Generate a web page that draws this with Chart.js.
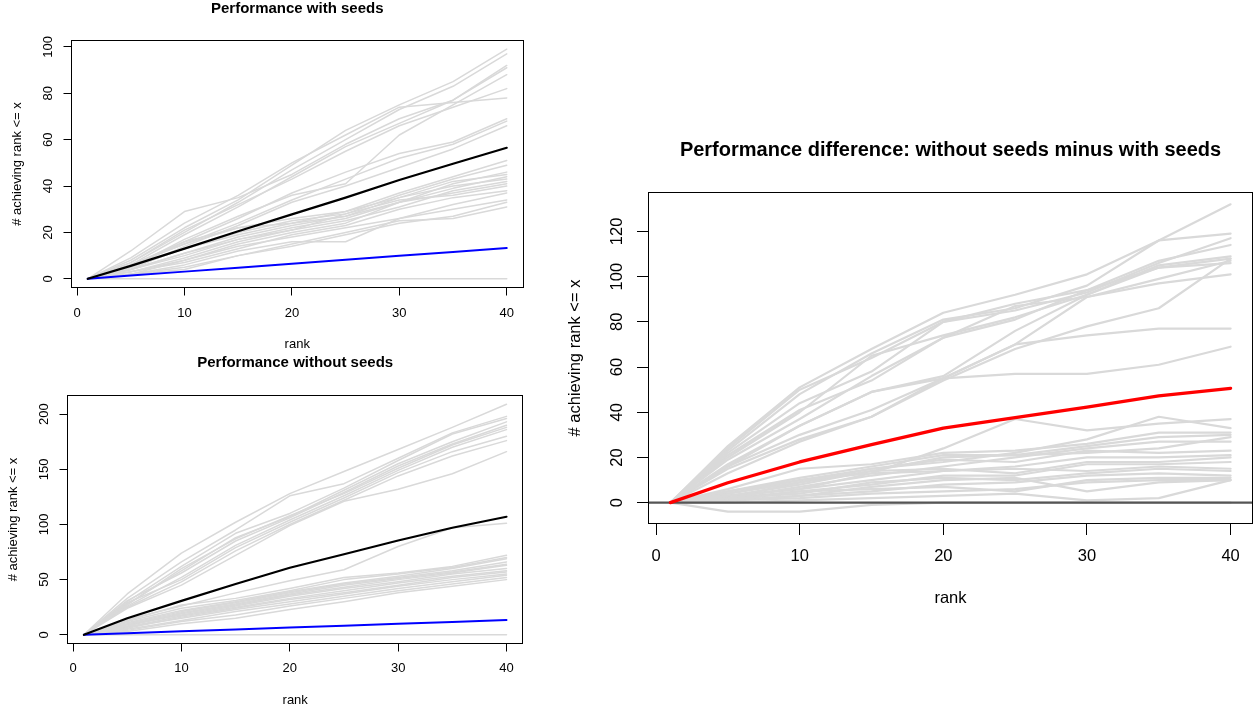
<!DOCTYPE html>
<html>
<head>
<meta charset="utf-8">
<script src="https://cdn.jsdelivr.net/npm/chart.js@4.4.1/dist/chart.umd.min.js"></script>
<style>
  body { margin: 0; background: #fff; width: 1258px; height: 710px; position: relative; overflow: hidden; }
  canvas { position: absolute; }
</style>
</head>
<body>
<canvas id="withChart" width="540" height="355" style="left:0;top:0"></canvas>
<canvas id="withoutChart" width="540" height="355" style="left:0;top:355px"></canvas>
<canvas id="diffChart" width="698" height="510" style="left:560px;top:120px"></canvas>
<script>
// ranks on the x axis and the tick labels
const ranks = [1, 5, 10, 15, 20, 25, 30, 35, 40];
const rankTicks = [0, 10, 20, 30, 40];
const withTicks = [0, 20, 40, 60, 80, 100];
const withoutTicks = [0, 50, 100, 150, 200];
const diffTicks = [0, 20, 40, 60, 80, 100, 120];

// --- Performance with seeds (one row per run) ---
const withSeeds = [
  [0, 8, 22, 34, 49, 64, 75, 85, 99],
  [0, 7, 20, 33, 47, 60, 73, 83, 97],
  [0, 12, 29, 35, 45, 58, 69, 77, 92],
  [0, 6, 19, 31, 44, 57, 67, 77, 91],
  [0, 7, 21, 32, 43, 55, 66, 74, 82],
  [0, 5, 17, 27, 36, 41, 62, 75, 88],
  [0, 9, 24, 36, 50, 62, 74, 76, 78],
  [0, 5, 16, 26, 37, 46, 54, 59, 69],
  [0, 6, 15, 24, 34, 43, 52, 58, 68],
  [0, 4, 14, 23, 33, 40, 48, 56, 66],
  [0, 6, 16, 22, 26, 29, 37, 44, 51],
  [0, 5, 13, 20, 25, 28, 36, 43, 49],
  [0, 6, 15, 22, 24, 27, 33, 41, 46],
  [0, 4, 11, 18, 23, 27, 35, 42, 45],
  [0, 4, 10, 17, 22, 26, 33, 39, 44],
  [0, 5, 13, 19, 24, 29, 35, 40, 43],
  [0, 3, 9, 16, 21, 25, 31, 38, 42],
  [0, 2, 8, 15, 20, 24, 33, 37, 41],
  [0, 4, 11, 17, 21, 28, 34, 36, 40],
  [0, 3, 7, 13, 19, 23, 30, 35, 38],
  [0, 2, 6, 12, 16, 16, 26, 32, 37],
  [0, 3, 8, 14, 18, 22, 26, 30, 34],
  [0, 2, 5, 10, 14, 19, 24, 27, 33],
  [0, 2, 4, 10, 15, 20, 25, 26, 31],
  [0, 0, 0, 0, 0, 0, 0, 0, 0]
];
const withMean = [0, 5.6, 13, 20.5, 27.8, 35, 42.6, 49.6, 56.5];
const withRandom = [0, 1.4, 3.1, 4.8, 6.5, 8.2, 9.9, 11.6, 13.3];

// --- Performance without seeds ---
const withoutSeeds = [
  [0, 37, 74, 102, 128, 148, 168, 188, 209],
  [0, 33, 66, 95, 126, 137, 160, 183, 198],
  [0, 30, 62, 92, 110, 133, 158, 182, 196],
  [0, 28, 58, 88, 107, 131, 155, 175, 193],
  [0, 31, 56, 85, 106, 129, 153, 173, 190],
  [0, 27, 60, 87, 108, 128, 151, 172, 188],
  [0, 26, 52, 81, 104, 126, 149, 170, 186],
  [0, 29, 50, 79, 102, 124, 147, 166, 180],
  [0, 25, 48, 76, 100, 122, 144, 162, 176],
  [0, 24, 45, 72, 99, 121, 132, 146, 166],
  [0, 14, 26, 38, 49, 59, 80, 97, 101],
  [0, 13, 27, 33, 42, 52, 56, 62, 72],
  [0, 12, 24, 31, 40, 50, 55, 61, 70],
  [0, 11, 22, 30, 39, 47, 53, 60, 69],
  [0, 10, 21, 29, 38, 46, 52, 58, 66],
  [0, 9, 20, 28, 37, 45, 51, 57, 64],
  [0, 8, 19, 27, 36, 43, 50, 56, 63],
  [0, 9, 18, 26, 35, 42, 48, 55, 60],
  [0, 7, 17, 25, 33, 40, 47, 53, 58],
  [0, 6, 16, 24, 32, 38, 45, 52, 57],
  [0, 7, 15, 23, 30, 37, 44, 50, 55],
  [0, 5, 13, 21, 28, 35, 42, 48, 54],
  [0, 4, 12, 18, 26, 33, 40, 46, 52],
  [0, 3, 10, 15, 23, 30, 38, 44, 50],
  [0, 0, 0, 0, 0, 0, 0, 0, 0]
];
const withoutMean = [0, 15, 30.7, 46, 60.8, 73, 85.5, 97, 107];
const withoutRandom = [0, 1.4, 3.1, 4.8, 6.5, 8.2, 9.9, 11.6, 13.3];

// --- Difference: without seeds minus with seeds ---
const diffSeeds = [
  [0, 25, 51, 68, 84, 92, 101, 116, 132],
  [0, 23, 48, 66, 81, 86, 96, 116, 119],
  [0, 24, 50, 64, 80, 85, 93, 106, 117],
  [0, 22, 44, 58, 80, 88, 94, 107, 114],
  [0, 20, 40, 65, 74, 82, 92, 105, 109],
  [0, 21, 41, 54, 73, 81, 94, 104, 108],
  [0, 19, 37, 56, 73, 87, 91, 99, 107],
  [0, 17, 34, 49, 56, 76, 92, 104, 106],
  [0, 16, 30, 41, 55, 70, 91, 97, 101],
  [0, 15, 28, 38, 54, 68, 78, 86, 108],
  [0, 13, 27, 38, 55, 70, 74, 77, 77],
  [0, 16, 34, 49, 55, 57, 57, 61, 69],
  [0, 5, 10, 13, 24, 37, 32, 35, 37],
  [0, 4, 9, 15, 18, 22, 28, 38, 33],
  [0, 6, 15, 17, 22, 23, 26, 31, 31],
  [0, 3, 8, 14, 20, 21, 25, 29, 30],
  [0, 5, 11, 16, 21, 21, 22, 24, 29],
  [0, 2, 7, 12, 16, 20, 24, 27, 27],
  [0, 4, 10, 15, 19, 18, 23, 22, 23],
  [0, 3, 6, 10, 14, 16, 20, 20, 21],
  [0, 2, 9, 14, 15, 13, 18, 18, 20],
  [0, 1, 5, 8, 12, 12, 17, 17, 18],
  [0, 3, 6, 13, 14, 15, 14, 16, 15],
  [0, 2, 4, 9, 11, 10, 13, 15, 14],
  [0, 1, 3, 5, 8, 9, 12, 13, 12],
  [0, 2, 5, 6, 7, 5, 10, 11, 11],
  [0, 1, 2, 4, 5, 6, 9, 10, 10],
  [0, 1, 3, 7, 10, 11, 5, 9, 10],
  [0, 0, 1, 2, 3, 4, 1, 2, 10],
  [0, -4, -4, -1, 0, 0, 0, 0, 0]
];
const diffMean = [0, 8.8, 18, 25.7, 33, 37.6, 42.3, 47.2, 50.6];

Chart.defaults.font.family = '"Liberation Sans", Arial, Helvetica, sans-serif';
Chart.defaults.color = '#000';

const toPoints = vals => vals.map((v, i) => ({ x: ranks[i], y: v }));

// R-style box around the plot region
const framePlugin = {
  id: 'frame',
  afterDatasetsDraw(chart) {
    const { ctx, chartArea: a } = chart;
    ctx.save();
    ctx.strokeStyle = '#000';
    ctx.lineWidth = 1;
    ctx.strokeRect(Math.round(a.left) + 0.5, Math.round(a.top) + 0.5,
      Math.round(a.right - a.left) - 1, Math.round(a.bottom - a.top) - 1);
    ctx.restore();
  }
};

function makePanel(id, p) {
  const vals = [].concat(...p.runs, ...p.lines.map(l => l.values));
  const lo = Math.min(...vals), hi = Math.max(...vals);
  const yPad = (hi - lo) * 0.04;
  const xPad = (ranks[ranks.length - 1] - ranks[0]) * 0.04;
  const xMin = ranks[0] - xPad, xMax = ranks[ranks.length - 1] + xPad;

  const datasets = p.runs.map(r => ({
    data: toPoints(r), borderColor: '#d9d9d9', borderWidth: p.runWidth, order: 3
  }));
  if (p.zeroLine) {
    datasets.push({ data: [{ x: xMin, y: 0 }, { x: xMax, y: 0 }], borderColor: '#555555', borderWidth: 2.2, order: 2 });
  }
  p.lines.forEach(l => datasets.push({
    data: toPoints(l.values), borderColor: l.color, borderWidth: l.width, order: 1
  }));

  const grid = { drawOnChartArea: false, drawTicks: true, tickLength: p.tick, color: '#000', lineWidth: 1 };

  new Chart(document.getElementById(id), {
    type: 'line',
    data: { datasets },
    options: {
      responsive: false,
      animation: false,
      events: [],
      layout: { padding: { left: 0, right: p.padRight, top: 0, bottom: 0 } },
      elements: {
        point: { radius: 0 },
        line: { tension: 0, fill: false, borderJoinStyle: 'round', borderCapStyle: 'round' }
      },
      plugins: {
        legend: { display: false },
        tooltip: { enabled: false },
        title: {
          display: true, text: p.title, fullSize: false,
          font: { size: p.titleSize, weight: 'bold', lineHeight: 1 },
          padding: { top: p.titleTop, bottom: p.titleBottom }
        }
      },
      scales: {
        x: {
          type: 'linear', min: xMin, max: xMax,
          afterBuildTicks: s => { s.ticks = rankTicks.map(v => ({ value: v })); },
          afterFit: s => { s.height = p.xHeight; },
          grid, border: { display: false },
          ticks: { font: { size: p.font }, padding: p.xTickPad, maxRotation: 0, autoSkip: false },
          title: { display: true, text: 'rank', font: { size: p.font }, padding: { top: 0, bottom: p.xTitlePad } }
        },
        y: {
          type: 'linear', min: lo - yPad, max: hi + yPad,
          afterBuildTicks: s => { s.ticks = p.yTicks.map(v => ({ value: v })); },
          afterFit: s => { s.width = p.yWidth; },
          grid, border: { display: false },
          ticks: { font: { size: p.font }, padding: p.yTickPad, minRotation: 90, maxRotation: 90, crossAlign: 'center', autoSkip: false },
          title: { display: true, text: '# achieving rank <= x', font: { size: p.font }, padding: { top: p.yTitlePad, bottom: 0 } }
        }
      }
    },
    plugins: [framePlugin]
  });
}

makePanel('withChart', {
  title: 'Performance with seeds', titleSize: 15, titleTop: 1.5, titleBottom: 23.5,
  runs: withSeeds, runWidth: 1.5,
  lines: [{ values: withMean, color: '#000000', width: 2.2 }, { values: withRandom, color: '#0000ff', width: 2 }],
  yTicks: withTicks, font: 13, tick: 7.5, padRight: 16.5, yWidth: 71, xHeight: 67,
  xTickPad: 9.7, xTitlePad: 3.2, yTickPad: 4.7, yTitlePad: 9.4
});

makePanel('withoutChart', {
  title: 'Performance without seeds', titleSize: 15, titleTop: 0, titleBottom: 25,
  runs: withoutSeeds, runWidth: 1.5,
  lines: [{ values: withoutMean, color: '#000000', width: 2.2 }, { values: withoutRandom, color: '#0000ff', width: 2 }],
  yTicks: withoutTicks, font: 13, tick: 7.5, padRight: 16.6, yWidth: 67, xHeight: 66,
  xTickPad: 8.8, xTitlePad: 2.2, yTickPad: 4.7, yTitlePad: 6
});

makePanel('diffChart', {
  title: 'Performance difference: without seeds minus with seeds', titleSize: 20, titleTop: 20, titleBottom: 32,
  runs: diffSeeds, runWidth: 2.2, zeroLine: true,
  lines: [{ values: diffMean, color: '#ff0000', width: 3.3 }],
  yTicks: diffTicks, font: 16.5, tick: 11, padRight: 5, yWidth: 88, xHeight: 106,
  xTickPad: 12, xTitlePad: 21.8, yTickPad: 6.2, yTitlePad: 5.1
});
</script>
</body>
</html>
